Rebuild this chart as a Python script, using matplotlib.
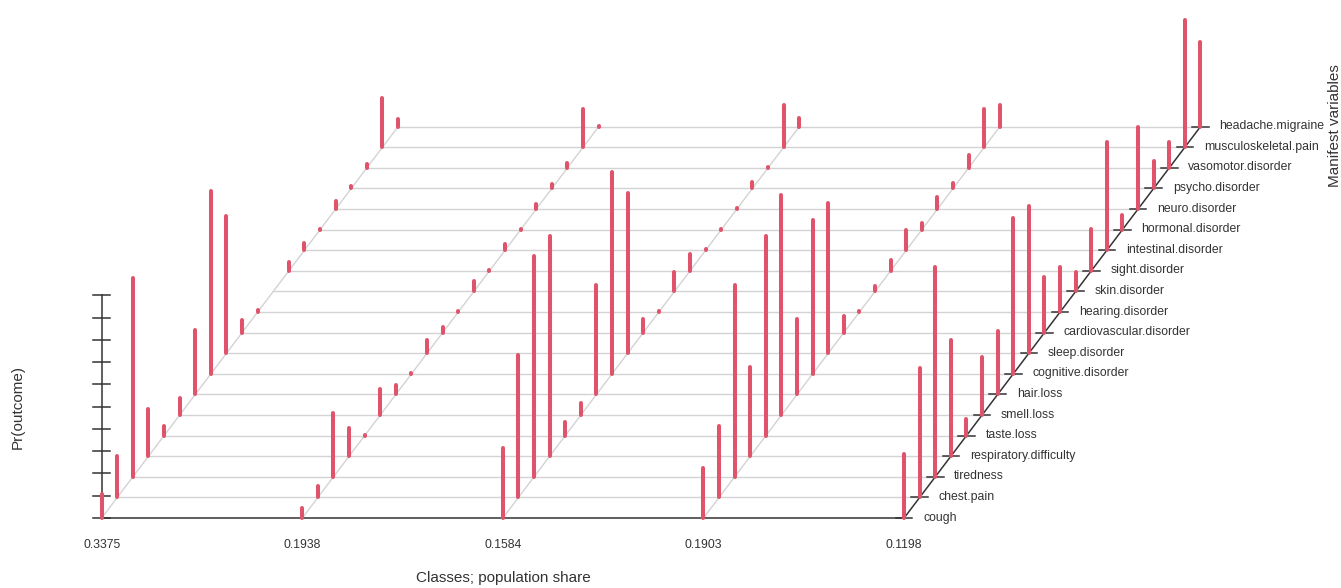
import matplotlib
matplotlib.use("Agg")
import matplotlib.pyplot as plt
import numpy as np

plt.rcParams['font.family'] = ['Liberation Sans', 'DejaVu Sans']

# ---- data ----
variables = ["cough", "chest.pain", "tiredness", "respiratory.difficulty", "taste.loss",
             "smell.loss", "hair.loss", "cognitive.disorder", "sleep.disorder",
             "cardiovascular.disorder", "hearing.disorder", "skin.disorder", "sight.disorder",
             "intestinal.disorder", "hormonal.disorder", "neuro.disorder", "psycho.disorder",
             "vasomotor.disorder", "musculoskeletal.pain", "headache.migraine"]
class_shares = ["0.3375", "0.1938", "0.1584", "0.1903", "0.1198"]

class1 = [0.107, 0.186, 0.893, 0.213, 0.042, 0.076, 0.288, 0.822, 0.616, 0.056,
          0.010, 0.003, 0.040, 0.034, 0.003, 0.037, 0.011, 0.018, 0.221, 0.036]
class2 = [0.045, 0.049, 0.287, 0.126, 0.003, 0.115, 0.040, 0.003, 0.061, 0.025,
          0.003, 0.045, 0.003, 0.027, 0.002, 0.021, 0.021, 0.022, 0.173, 0.004]
class3 = [0.315, 0.640, 0.990, 0.990, 0.060, 0.055, 0.490, 0.905, 0.720, 0.060,
          0.003, 0.087, 0.075, 0.004, 0.002, 0.003, 0.030, 0.004, 0.190, 0.040]
class4 = [0.226, 0.320, 0.860, 0.400, 0.897, 0.990, 0.337, 0.690, 0.676, 0.073,
          0.003, 0.025, 0.047, 0.090, 0.030, 0.054, 0.026, 0.058, 0.173, 0.096]
class5 = [0.289, 0.580, 0.943, 0.521, 0.076, 0.259, 0.285, 0.700, 0.662, 0.248,
          0.204, 0.089, 0.189, 0.486, 0.064, 0.367, 0.123, 0.115, 0.570, 0.380]
probs = [class1, class2, class3, class4, class5]
z_ticks = [0.0, 0.1, 0.2, 0.3, 0.4, 0.5, 0.6, 0.7, 0.8, 0.9, 1.0]

# ---- projection geometry (figure pixel units) ----
X0, CSTEP, Y0, DX, DY, ZH = 101.7, 200.6, 518.0, 15.6, 20.6, 222.6
BAR = "#DF536B"
GRID = "#d3d3d3"
AXC = "#333333"
TXT = "#333333"

def proj(c, v, z=0.0):
    return X0 + c * CSTEP + v * DX, Y0 - v * DY - z * ZH

fig = plt.figure(figsize=(13.41, 5.88), dpi=100)
ax = fig.add_axes([0, 0, 1, 1])
ax.set_xlim(0, 1341)
ax.set_ylim(588, 0)
ax.axis("off")

nC, nV = len(probs), len(variables)

# horizontal row lines
for v in range(1, nV):
    xa, ya = proj(0, v)
    xb, yb = proj(nC - 1, v)
    ax.plot([xa, xb], [ya, yb], color=GRID, lw=1.0, zorder=1)
# diagonal lines for classes
for c in range(nC - 1):
    xa, ya = proj(c, 0)
    xb, yb = proj(c, nV - 1)
    ax.plot([xa, xb], [ya, yb], color=GRID, lw=1.0, zorder=1)

# bottom axis
xa, ya = proj(0, 0)
xb, yb = proj(nC - 1, 0)
ax.plot([xa, xb], [ya, yb], color=AXC, lw=1.1, zorder=2)
# manifest variable axis
xa, ya = proj(nC - 1, 0)
xb, yb = proj(nC - 1, nV - 1)
ax.plot([xa, xb], [ya, yb], color=AXC, lw=1.1, zorder=2)
for v, name in enumerate(variables):
    x, y = proj(nC - 1, v)
    ax.plot([x - 8.3, x + 8.3], [y, y], color=AXC, lw=1.1, zorder=2)
    ax.text(x + 19, y - 0.5, name, ha="left", va="center", fontsize=8.8, color=TXT)

# z axis
xa, ya = proj(0, 0, 0)
xb, yb = proj(0, 0, 1)
ax.plot([xa, xb], [ya, yb], color=AXC, lw=1.1, zorder=2)
for t in z_ticks:
    x, y = proj(0, 0, t)
    ax.plot([x - 8.3, x + 8.3], [y, y], color=AXC, lw=1.1, zorder=2)

# class labels
for c, lab in enumerate(class_shares):
    x, y = proj(c, 0)
    ax.text(x, y + 27, lab, ha="center", va="center", fontsize=8.8, color=TXT)

# bars
for c in range(nC):
    xs, y0s, y1s = [], [], []
    for v in range(nV):
        x, yb0 = proj(c, v, 0)
        _, yb1 = proj(c, v, probs[c][v])
        xs.append(x); y0s.append(yb0); y1s.append(yb1)
    ax.vlines(xs, y0s, y1s, colors=BAR, linewidth=2.9, capstyle="round", zorder=3)

# axis titles
xm, _ = proj(2, 0)
ax.text(xm, 578, "Classes; population share", ha="center", va="center", fontsize=11, color=TXT)
ax.text(18, 407, "Pr(outcome)", ha="center", va="center", rotation=90, fontsize=11, color=TXT)
ax.text(1335, 126, "Manifest variables", ha="center", va="center", rotation=90, fontsize=11, color=TXT)

fig.savefig("out.png", dpi=100)
